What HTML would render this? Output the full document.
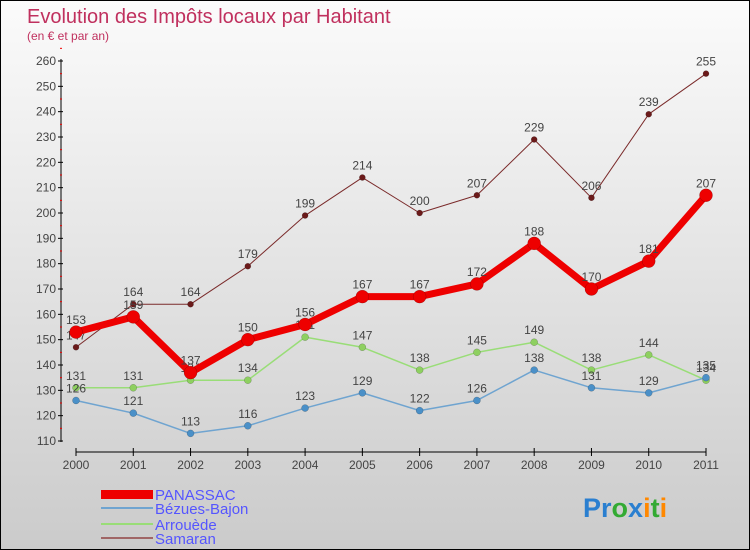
<!DOCTYPE html>
<html><head><meta charset="utf-8">
<style>
body{margin:0;width:750px;height:550px;overflow:hidden;font-family:"Liberation Sans",sans-serif;}
#wrap{position:absolute;left:0;top:0;width:748px;height:548px;border:1px solid #000;background:linear-gradient(#fbfbfb,#cbcbcb);}
</style></head><body>
<div id="wrap">
<svg id="chart" width="748" height="548" style="position:absolute;left:0;top:0">
<text x="26" y="22" font-size="20" fill="#c0305e">Evolution des Impôts locaux par Habitant</text>
<text x="26" y="39" font-size="12" fill="#c0305e">(en € et par an)</text>
<g id="axes"></g><g id="series"></g>
<g>
<rect x="100" y="489" width="52" height="9" fill="#e00"/>
<text x="154" y="499" font-size="15" fill="#55f">PANASSAC</text>
<line x1="100" y1="507" x2="152" y2="507" stroke="#6fa4d0" stroke-width="2"/>
<text x="154" y="513" font-size="15" fill="#55f">Bézues-Bajon</text>
<line x1="100" y1="523" x2="152" y2="523" stroke="#99dd77" stroke-width="2"/>
<text x="154" y="529" font-size="15" fill="#55f">Arrouède</text>
<line x1="100" y1="537" x2="152" y2="537" stroke="#a06666" stroke-width="2"/>
<text x="154" y="543" font-size="15" fill="#55f">Samaran</text>
</g>
<text x="582" y="516" font-size="27" font-weight="bold"><tspan fill="#2a7fd0">Pr</tspan><tspan fill="#3a3">o</tspan><tspan fill="#2a7fd0">x</tspan><tspan fill="#f80">i</tspan><tspan fill="#3a3">t</tspan><tspan fill="#f80">i</tspan></text>
</svg>
</div>
<script>
const years=["2000","2001","2002","2003","2004","2005","2006","2007","2008","2009","2010","2011"];
const yTicks=[110,120,130,140,150,160,170,180,190,200,210,220,230,240,250,260];
const panassac=[153,159,137,150,156,167,167,172,188,170,181,207];
const bezues=[126,121,113,116,123,129,122,126,138,131,129,135];
const arrouede=[131,131,134,134,151,147,138,145,149,138,144,134];
const samaran=[147,164,164,179,199,214,200,207,229,206,239,255];
const NS="http://www.w3.org/2000/svg";
function X(i){return 75+i*(630/11);}
function Y(v){return 440-(v-110)*380/150;}
function mk(t,a,p){const e=document.createElementNS(NS,t);for(const k in a)e.setAttribute(k,a[k]);p.appendChild(e);return e;}
const ax=document.getElementById('axes');
let l=mk('line',{x1:60,y1:Y(260)-2,x2:60,y2:441,stroke:'#000','stroke-width':1},ax);


yTicks.forEach(v=>{mk('line',{x1:57,y1:Y(v),x2:62,y2:Y(v),stroke:'#000'},ax);
mk('line',{x1:59,y1:Y(v+5),x2:61,y2:Y(v+5),stroke:'#e00'},ax);
const t=mk('text',{x:55,y:Y(v)+4,'font-size':12,fill:'#444','text-anchor':'end'},ax);t.textContent=v;

});
l=mk('line',{x1:75,y1:451,x2:705,y2:451,stroke:'#000'},ax);


years.forEach((y,i)=>{mk('line',{x1:X(i),y1:447,x2:X(i),y2:455,stroke:'#000'},ax);
const t=mk('text',{x:X(i),y:468,'font-size':12,fill:'#444','text-anchor':'middle'},ax);t.textContent=y;

});
const sg=document.getElementById('series');
function draw(data,color,w,r,name,dot){
const g=mk('g',{},sg);


mk('polyline',{points:data.map((v,i)=>X(i)+','+Y(v)).join(' '),fill:'none',stroke:color,'stroke-width':w,'stroke-linejoin':'round'},g);
data.forEach((v,i)=>{const c=mk('circle',{cx:X(i),cy:Y(v),r:r,fill:dot||color,stroke:'rgba(0,0,0,0.3)','stroke-width':0.5},g);


const t=mk('text',{x:X(i),y:Y(v)-8,'font-size':12,fill:'#444','text-anchor':'middle'},g);t.textContent=v;

});}
draw(samaran,'#7a2a2a',1,3,'samaran','#6b1a1a');
draw(arrouede,'#99dd77',1.5,3.5,'arrouede','#8ed060');
draw(bezues,'#6fa4d0',1.5,3.5,'bezues','#4a90c8');
draw(panassac,'#ee0000',7,6.5,'panassac','#ee0000');
</script>
</body></html>
